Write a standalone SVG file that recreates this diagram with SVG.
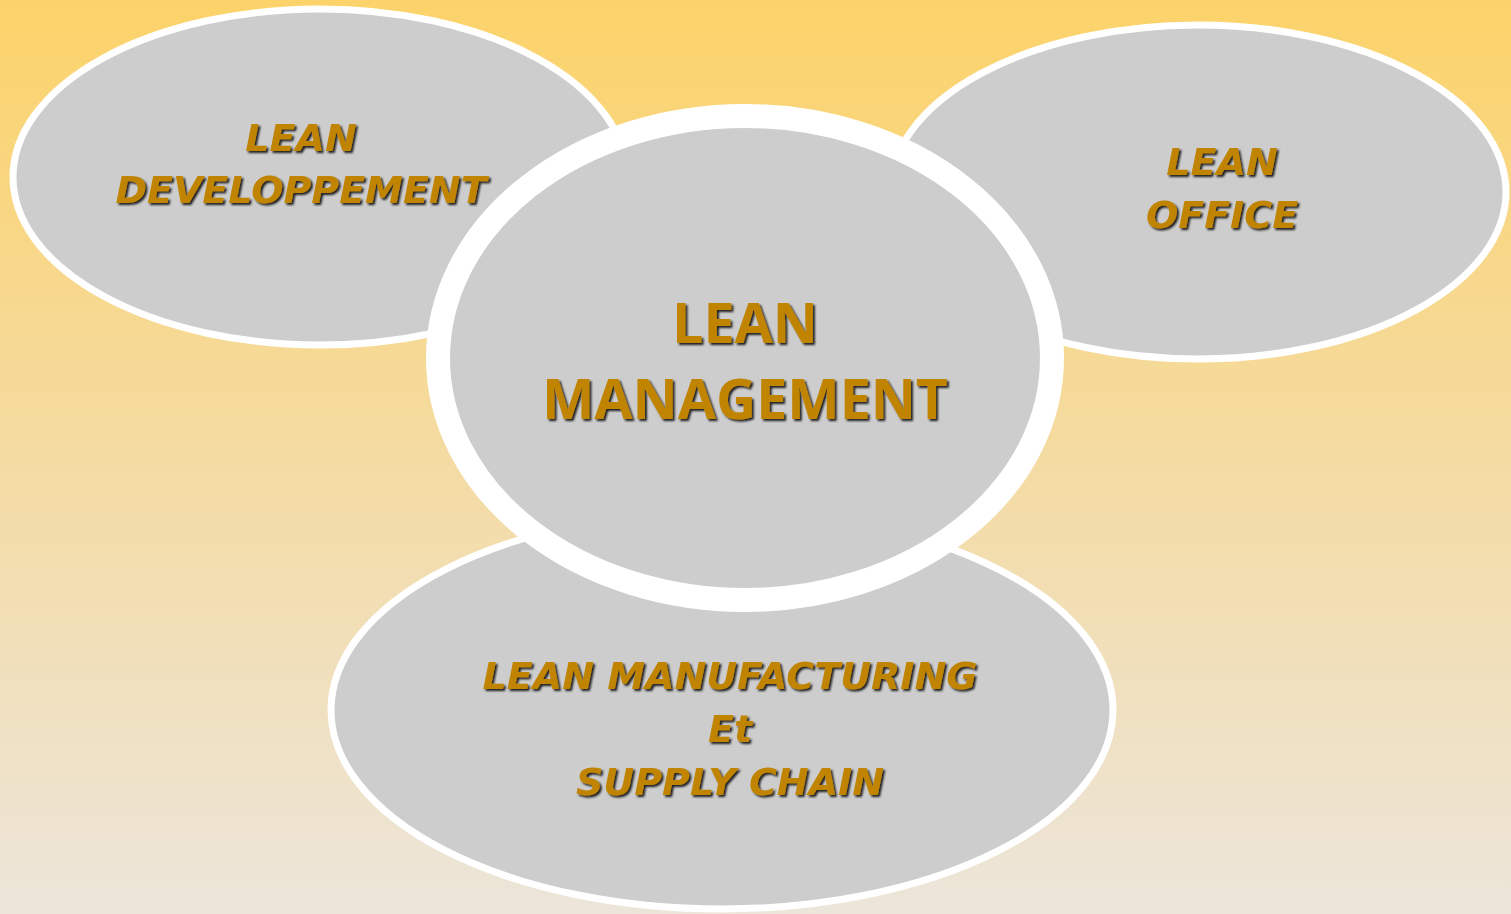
<svg xmlns="http://www.w3.org/2000/svg" width="1511" height="914" viewBox="0 0 1511 914">
<defs>
<linearGradient id="bg" x1="0" y1="0" x2="0" y2="1">
<stop offset="0" stop-color="#FCD36A"/>
<stop offset="0.5" stop-color="#F4DBA2"/>
<stop offset="1" stop-color="#ECE5DA"/>
</linearGradient>
<filter id="sh" x="-10%" y="-20%" width="120%" height="140%">
<feDropShadow dx="2" dy="2" stdDeviation="0.8" flood-color="#000" flood-opacity="0.85"/>
</filter>
</defs>
<style>
.oval{fill:#CDCDCD;stroke:#FFFFFF;stroke-width:7}
.big{fill:#CDCDCD;stroke:#FFFFFF;stroke-width:24}
.t{font-family:"DejaVu Sans",Verdana,sans-serif;font-weight:bold;font-style:italic;font-size:38px;fill:#C08400;text-anchor:middle;filter:url(#sh)}
.c{font-family:"Open Sans","Noto Sans",sans-serif;font-weight:bold;font-size:55.5px;fill:#C08400;text-anchor:middle;filter:url(#sh)}
</style>
<rect width="1511" height="914" fill="url(#bg)"/>
<g id="connectors"/>
<g id="node-dev">
<ellipse class="oval" cx="320" cy="177" rx="307" ry="168"/>
<text class="t" x="301" y="151">LEAN</text>
<text class="t" x="301" y="203">DEVELOPPEMENT</text>
</g>
<g id="node-office">
<ellipse class="oval" cx="1198" cy="192" rx="308" ry="167"/>
<text class="t" x="1222" y="175">LEAN</text>
<text class="t" x="1222" y="228">OFFICE</text>
</g>
<g id="node-manufacturing">
<ellipse class="oval" cx="722" cy="710" rx="391" ry="199"/>
<text class="t" x="730" y="689">LEAN MANUFACTURING</text>
<text class="t" x="730" y="742">Et</text>
<text class="t" x="730" y="795">SUPPLY CHAIN</text>
</g>
<g id="node-management">
<ellipse class="big" cx="745" cy="358" rx="307" ry="242"/>
<text class="c" x="745" y="343">LEAN</text>
<text class="c" x="745" y="419">MANAGEMENT</text>
</g>
</svg>
